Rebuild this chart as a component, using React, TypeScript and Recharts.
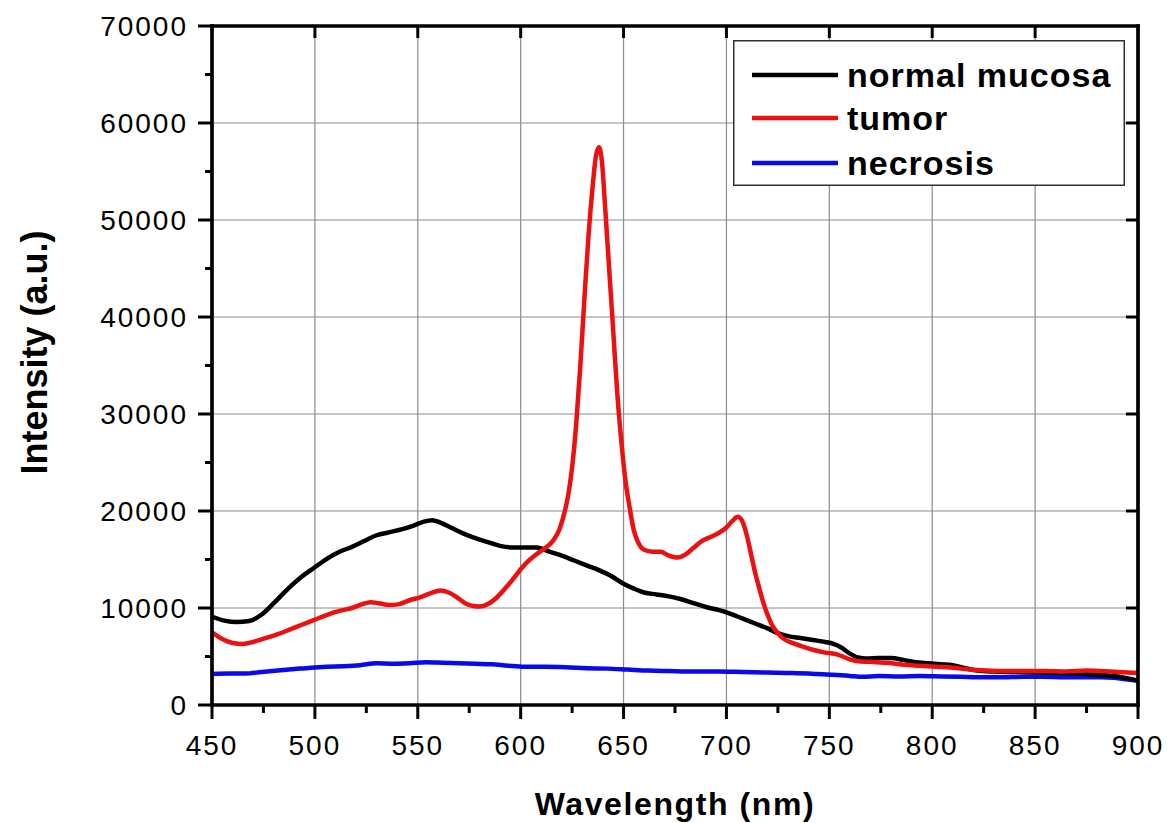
import React from 'react';
import { LineChart, Line, XAxis, YAxis, CartesianGrid, Legend } from 'recharts';

const FONT = '"Liberation Sans", Arial, Helvetica, sans-serif';

// ---- axis ticks ----
const X_TICKS = [450, 475, 500, 525, 550, 575, 600, 625, 650, 675, 700, 725, 750, 775, 800, 825, 850, 875, 900];
const X_MAJOR = [450, 500, 550, 600, 650, 700, 750, 800, 850, 900];
const X_GRID = [500, 550, 600, 650, 700, 750, 800, 850];
const Y_TICKS = [0, 5000, 10000, 15000, 20000, 25000, 30000, 35000, 40000, 45000, 50000, 55000, 60000, 65000, 70000];
const Y_MAJOR = [0, 10000, 20000, 30000, 40000, 50000, 60000, 70000];
const Y_GRID = [10000, 20000, 30000, 40000, 50000, 60000];

// ---- normal mucosa ----
const W_NORMAL = [450, 456, 462, 468, 474, 480, 487, 494, 500, 506, 512, 518, 524, 530, 536, 542, 548, 553, 557, 561, 566, 572, 578, 584, 590, 596, 602, 608, 614, 620, 626, 632, 638, 644, 650, 655, 660, 666, 672, 678, 684, 690, 696, 702, 708, 714, 720, 725, 730, 736, 742, 748, 752, 756, 760, 764, 768, 774, 780, 786, 792, 798, 804, 810, 816, 822, 830, 840, 850, 860, 870, 880, 888, 894, 900];
const V_NORMAL = [9100, 8700, 8550, 8650, 9300, 10500, 12000, 13300, 14200, 15100, 15800, 16300, 16900, 17500, 17800, 18100, 18500, 18900, 19050, 18800, 18300, 17700, 17200, 16800, 16400, 16250, 16250, 16250, 15800, 15400, 14900, 14400, 13900, 13300, 12500, 12000, 11600, 11400, 11200, 10900, 10500, 10100, 9800, 9400, 8900, 8400, 7900, 7400, 7100, 6900, 6700, 6500, 6300, 5900, 5300, 4900, 4800, 4850, 4850, 4650, 4400, 4300, 4200, 4100, 3800, 3550, 3450, 3400, 3350, 3300, 3250, 3100, 3000, 2800, 2500];

// ---- tumor ----
const W_TUMOR = [450, 455, 460, 465, 470, 476, 482, 488, 494, 500, 506, 512, 518, 523, 527, 531, 536, 541, 546, 551, 556, 561, 565, 569, 573, 577, 580, 584, 588, 592, 596, 600, 604, 608, 612, 616, 619, 621, 623, 625, 627, 629, 631, 633, 635, 636.5, 638, 639.5, 641, 643, 645, 647, 649, 651, 653, 655, 657, 660, 664, 668, 672, 676, 680, 684, 688, 692, 696, 700, 703, 705.5, 708, 710, 712, 714, 716, 718, 720, 722, 725, 728, 732, 736, 742, 748, 754, 760, 764, 770, 778, 786, 794, 802, 810, 818, 826, 835, 845, 855, 865, 875, 882, 890, 900];
const V_TUMOR = [7500, 6800, 6400, 6300, 6500, 6900, 7300, 7800, 8300, 8800, 9300, 9700, 10000, 10400, 10600, 10500, 10300, 10400, 10800, 11100, 11500, 11800, 11600, 11100, 10500, 10200, 10150, 10400, 11000, 11900, 12900, 14000, 14900, 15600, 16200, 17000, 18200, 19600, 21500, 24500, 29000, 35000, 42000, 48500, 53500, 56500, 57500, 56000, 51500, 45000, 38500, 32000, 27000, 23000, 20300, 18000, 16800, 16000, 15800, 15800, 15400, 15200, 15500, 16200, 16900, 17300, 17700, 18300, 19000, 19400, 18800, 17400, 15500, 13600, 12000, 10500, 9300, 8300, 7400, 6800, 6400, 6100, 5700, 5400, 5200, 4700, 4500, 4450, 4350, 4150, 4050, 3950, 3850, 3650, 3550, 3500, 3500, 3500, 3450, 3550, 3500, 3400, 3300];

// ---- necrosis ----
const W_NECROSIS = [450, 458, 466, 474, 482, 490, 498, 506, 514, 522, 530, 538, 546, 554, 562, 570, 578, 586, 594, 602, 612, 622, 632, 642, 652, 662, 672, 684, 696, 708, 720, 732, 744, 754, 760, 766, 774, 784, 794, 804, 814, 824, 834, 844, 854, 864, 874, 882, 888, 894, 900];
const V_NECROSIS = [3200, 3250, 3250, 3400, 3550, 3700, 3850, 3950, 4000, 4100, 4300, 4250, 4300, 4400, 4350, 4300, 4250, 4200, 4050, 3950, 3950, 3900, 3800, 3750, 3650, 3550, 3500, 3450, 3450, 3400, 3350, 3300, 3200, 3100, 3000, 2900, 3000, 2950, 3000, 2950, 2900, 2850, 2850, 2900, 2900, 2850, 2850, 2850, 2800, 2650, 2500];

const LEGEND_ORDER = ['normal mucosa', 'tumor', 'necrosis'];

const toData = (ws: number[], vs: number[]) => ws.map((w, i) => ({ w, v: vs[i] }));
const normalData = toData(W_NORMAL, V_NORMAL);
const tumorData = toData(W_TUMOR, V_TUMOR);
const necrosisData = toData(W_NECROSIS, V_NECROSIS);

const TICK_FONT = 28;

const BottomTick = (p: any) => {
  const { x, y, payload } = p;
  const major = X_MAJOR.includes(payload.value);
  return (
    <g>
      <line x1={x} y1={y} x2={x} y2={y + (major ? 14 : 8)} stroke="#000" strokeWidth={3} />
      {major && (
        <text x={x} y={y + 50} textAnchor="middle" fontSize={TICK_FONT} fontFamily={FONT} fill="#000" letterSpacing={2}>
          {payload.value}
        </text>
      )}
    </g>
  );
};

const LeftTick = (p: any) => {
  const { x, y, payload } = p;
  const major = Y_MAJOR.includes(payload.value);
  return (
    <g>
      <line x1={x - (major ? 14 : 7)} y1={y} x2={x} y2={y} stroke="#000" strokeWidth={3} />
      {major && (
        <text x={x - 24} y={y + 10} textAnchor="end" fontSize={TICK_FONT} fontFamily={FONT} fill="#000" letterSpacing={2}>
          {payload.value}
        </text>
      )}
    </g>
  );
};

const TopTick = (p: any) => {
  const { x, y } = p;
  return <line x1={x} y1={y} x2={x} y2={y + 12} stroke="#000" strokeWidth={3} />;
};

const RightTick = (p: any) => {
  const { x, y } = p;
  return <line x1={x - 12} y1={y} x2={x} y2={y} stroke="#000" strokeWidth={3} />;
};

const XTitle = (p: any) => {
  const vb = p.viewBox || { x: 212, y: 705, width: 926, height: 118 };
  return (
    <text x={vb.x + vb.width / 2} y={vb.y + 110} textAnchor="middle" fontSize={32} fontWeight="bold" fontFamily={FONT} fill="#000" letterSpacing={1.6}>
      Wavelength (nm)
    </text>
  );
};

const YTitle = (p: any) => {
  const vb = p.viewBox || { x: 0, y: 26, width: 212, height: 679 };
  const cx = vb.x + 47;
  const cy = vb.y + vb.height / 2 - 13;
  return (
    <text x={cx} y={cy} transform={`rotate(-90, ${cx}, ${cy})`} textAnchor="middle" fontSize={36} fontWeight="bold" fontFamily={FONT} fill="#000">
      Intensity (a.u.)
    </text>
  );
};

const renderLegend = (props: any) => {
  const payload = [...(props.payload || [])].sort(
    (a: any, b: any) => LEGEND_ORDER.indexOf(a.value) - LEGEND_ORDER.indexOf(b.value)
  );
  const rows = [35, 78, 123];
  return (
    <svg width={392} height={146} style={{ display: 'block' }}>
      <rect x={0.75} y={0.75} width={390.5} height={144.5} fill="#fff" stroke="#333" strokeWidth={1.5} />
      {payload.map((e: any, i: number) => (
        <g key={e.value}>
          <line x1={19} y1={rows[i]} x2={105} y2={rows[i]} stroke={e.color} strokeWidth={4.5} />
          <text x={114} y={rows[i] + 12} fontSize={34} fontWeight="bold" fontFamily={FONT} fill="#000" letterSpacing={1}>
            {e.value}
          </text>
        </g>
      ))}
    </svg>
  );
};

export default function App() {
  return (
    <div style={{ position: 'absolute', left: 0, top: 0, width: 1175, height: 823, background: '#fff' }}>
      <LineChart width={1175} height={823} margin={{ top: 25, right: 36, bottom: 0, left: 0 }}>
        <CartesianGrid stroke="#8c8c8c" strokeWidth={1.2} verticalValues={X_GRID} horizontalValues={Y_GRID} />
        <XAxis
          dataKey="w"
          type="number"
          domain={[450, 900]}
          ticks={X_TICKS}
          interval={0}
          height={118}
          tickSize={0}
          tickMargin={0}
          tickLine={false}
          axisLine={{ stroke: '#000', strokeWidth: 3.7, strokeLinecap: 'square' }}
          tick={(p: any) => <BottomTick {...p} />}
          label={{ content: (p: any) => <XTitle {...p} /> }}
          allowDataOverflow
        />
        <XAxis
          xAxisId="top"
          orientation="top"
          dataKey="w"
          type="number"
          domain={[450, 900]}
          ticks={X_GRID}
          interval={0}
          height={1}
          tickSize={0}
          tickMargin={0}
          tickLine={false}
          axisLine={{ stroke: '#000', strokeWidth: 3.7, strokeLinecap: 'square' }}
          tick={(p: any) => <TopTick {...p} />}
          allowDataOverflow
        />
        <YAxis
          type="number"
          domain={[0, 70000]}
          ticks={Y_TICKS}
          interval={0}
          width={212}
          tickSize={0}
          tickMargin={0}
          tickLine={false}
          axisLine={{ stroke: '#000', strokeWidth: 3.7, strokeLinecap: 'square' }}
          tick={(p: any) => <LeftTick {...p} />}
          label={{ content: (p: any) => <YTitle {...p} /> }}
          allowDataOverflow
        />
        <YAxis
          yAxisId="right"
          orientation="right"
          type="number"
          domain={[0, 70000]}
          ticks={Y_GRID}
          interval={0}
          width={1}
          tickSize={0}
          tickMargin={0}
          tickLine={false}
          axisLine={{ stroke: '#000', strokeWidth: 3.7, strokeLinecap: 'square' }}
          tick={(p: any) => <RightTick {...p} />}
          allowDataOverflow
        />
        <Legend
          layout="vertical"
          align="center"
          verticalAlign="middle"
          wrapperStyle={{ left: 733, top: 40, width: 392, height: 146 }}
          content={renderLegend}
        />
        <Line name="necrosis" data={necrosisData} dataKey="v" type="monotone" stroke="#0a0ae8" strokeWidth={4.5} dot={false} activeDot={false} isAnimationActive={false} />
        <Line name="normal mucosa" data={normalData} dataKey="v" type="monotone" stroke="#000000" strokeWidth={4.5} dot={false} activeDot={false} isAnimationActive={false} />
        <Line name="tumor" data={tumorData} dataKey="v" type="monotone" stroke="#ec1010" strokeWidth={4.5} dot={false} activeDot={false} isAnimationActive={false} />
      </LineChart>
    </div>
  );
}
